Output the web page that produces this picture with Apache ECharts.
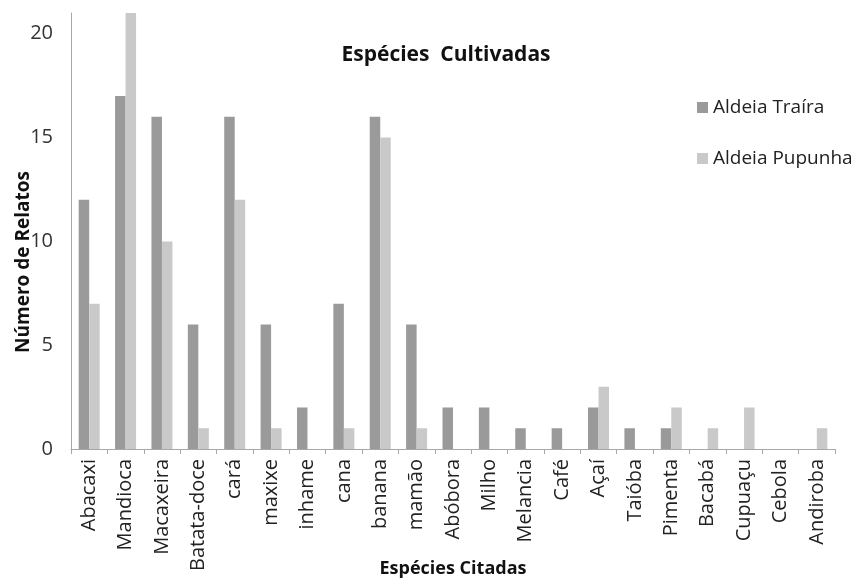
<!DOCTYPE html>
<html>
<head>
<meta charset="utf-8">
<script src="https://cdn.jsdelivr.net/npm/echarts@6/dist/echarts.min.js"></script>
<style>
html, body { margin: 0; padding: 0; background: #fff; }
#chart { width: 855px; height: 578px; }
</style>
</head>
<body>
<div id="chart"></div>
<script>
// Species cited by each village
const categories = ['Abacaxi', 'Mandioca', 'Macaxeira', 'Batata-doce', 'cará', 'maxixe', 'inhame', 'cana', 'banana', 'mamão', 'Abóbora', 'Milho', 'Melancia', 'Café', 'Açaí', 'Taióba', 'Pimenta', 'Bacabá', 'Cupuaçu', 'Cebola', 'Andiroba'];
const trairaValues = [12, 17, 16, 6, 16, 6, 2, 7, 16, 6, 2, 2, 1, 1, 2, 1, 1, 0, 0, 0, 0];
const pupunhaValues = [7, 21, 10, 1, 12, 1, 0, 1, 15, 1, 0, 0, 0, 0, 3, 0, 2, 1, 2, 0, 1];
const yTicks = [0, 5, 10, 15, 20];

const font = "'Open Sans', 'Noto Sans', sans-serif";
const chart = echarts.init(document.getElementById('chart'));
chart.setOption({
  backgroundColor: '#ffffff',
  animation: false,
  textStyle: { fontFamily: font },
  title: {
    text: 'Espécies  Cultivadas',
    left: 441, top: 40, textAlign: 'center',
    textStyle: { fontFamily: font, fontSize: 21, fontWeight: 'bold', color: '#111' }
  },
  legend: {
    orient: 'vertical',
    left: 692, top: 93,
    itemWidth: 11, itemHeight: 11,
    itemGap: 32,
    icon: 'rect',
    textStyle: { fontFamily: font, fontSize: 19, color: '#222' },
    data: ['Aldeia Traíra', 'Aldeia Pupunha']
  },
  grid: {
    left: 71, right: 20, top: 13, bottom: 129,
    containLabel: false, outerBoundsMode: 'none'
  },
  xAxis: {
    type: 'category',
    data: categories,
    name: 'Espécies Citadas',
    nameLocation: 'middle',
    nameGap: 111,
    nameMoveOverlap: false,
    nameTextStyle: { fontFamily: font, fontSize: 18, fontWeight: 'bold', color: '#111' },
    axisLine: { lineStyle: { color: '#a8a8a8' } },
    axisTick: { show: true, length: 5, lineStyle: { color: '#a8a8a8' } },
    axisLabel: {
      rotate: 90, interval: 0, margin: 10,
      fontFamily: font, fontSize: 20, color: '#222'
    }
  },
  yAxis: {
    type: 'value',
    min: 0, max: 21, interval: 5,
    name: 'Número de Relatos',
    nameLocation: 'middle',
    nameGap: 38,
    nameMoveOverlap: false,
    nameTextStyle: {
      fontFamily: font, fontSize: 19, fontWeight: 'bold', color: '#111',
      padding: [0, 62, 0, 0]
    },
    axisLine: { show: true, lineStyle: { color: '#a8a8a8' } },
    axisTick: { show: false },
    splitLine: { show: false },
    axisLabel: {
      margin: 18, fontFamily: font, fontSize: 20, color: '#333',
      formatter: v => (yTicks.includes(v) ? String(v) : '')
    }
  },
  series: [
    {
      name: 'Aldeia Traíra', type: 'bar', data: trairaValues,
      barWidth: 10.5, barGap: '0%',
      itemStyle: { color: '#9a9a9a' }
    },
    {
      name: 'Aldeia Pupunha', type: 'bar', data: pupunhaValues,
      barWidth: 10.5, barGap: '0%',
      itemStyle: { color: '#c9c9c9' }
    }
  ]
});
</script>
</body>
</html>
